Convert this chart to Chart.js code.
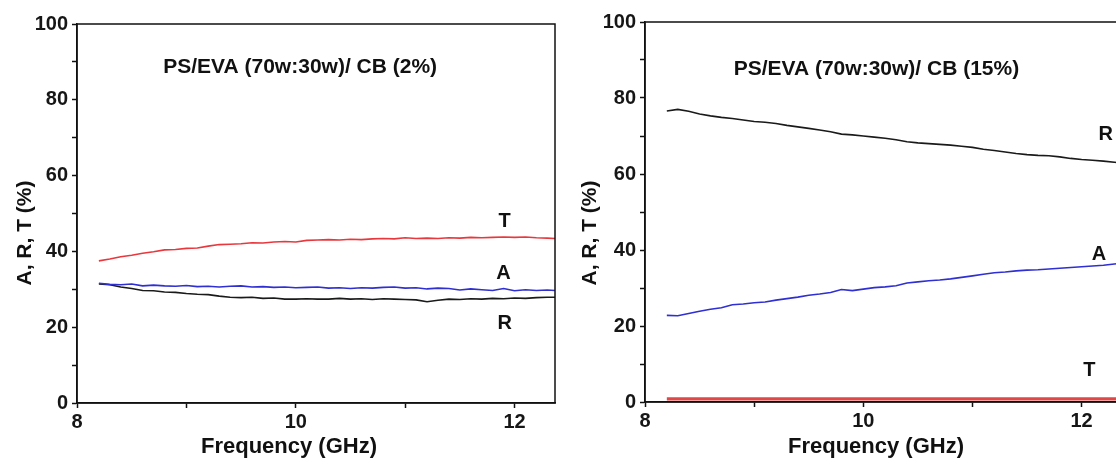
<!DOCTYPE html>
<html>
<head>
<meta charset="utf-8">
<script src="https://cdn.jsdelivr.net/npm/chart.js@4/dist/chart.umd.min.js"></script>
<style>
  html, body { margin: 0; padding: 0; background: #fff; overflow: hidden; }
  #wrap { position: relative; width: 1116px; height: 464px; overflow: hidden; background: #fff; }
  .panel { position: absolute; top: 0; }
  #p1 { left: 0; }
  #p2 { left: 560px; }
</style>
</head>
<body>
<div id="wrap">
  <canvas id="p1" class="panel" width="560" height="464"></canvas>
  <canvas id="p2" class="panel" width="600" height="464"></canvas>
</div>
<script>
// Frequency sweep (GHz), X-band
const freq = [8.2, 8.3, 8.4, 8.5, 8.6, 8.7, 8.8, 8.9, 9.0, 9.1, 9.2, 9.3, 9.4, 9.5, 9.6, 9.7, 9.8, 9.9,
              10.0, 10.1, 10.2, 10.3, 10.4, 10.5, 10.6, 10.7, 10.8, 10.9, 11.0, 11.1, 11.2, 11.3, 11.4,
              11.5, 11.6, 11.7, 11.8, 11.9, 12.0, 12.1, 12.2, 12.3, 12.37];

// PS/EVA (70w:30w) / CB 2 %
const t2 = [37.5, 38.0, 38.6, 39.0, 39.5, 39.9, 40.4, 40.5, 40.8, 40.9, 41.4, 41.8, 41.9, 42.0, 42.3, 42.2, 42.5, 42.6,
            42.5, 42.9, 43.0, 43.1, 43.0, 43.2, 43.1, 43.3, 43.4, 43.3, 43.6, 43.4, 43.5, 43.4, 43.6,
            43.5, 43.7, 43.6, 43.7, 43.8, 43.7, 43.8, 43.6, 43.5, 43.4];
const a2 = [31.6, 31.3, 31.2, 31.4, 30.9, 31.1, 30.9, 30.8, 31.0, 30.7, 30.8, 30.6, 30.8, 30.9, 30.6, 30.7, 30.5, 30.6,
            30.4, 30.5, 30.6, 30.3, 30.4, 30.2, 30.4, 30.3, 30.5, 30.6, 30.3, 30.4, 30.1, 30.3, 30.2,
            29.8, 30.1, 29.9, 29.7, 30.2, 29.6, 29.9, 29.7, 29.8, 29.7];
const r2 = [31.4, 31.2, 30.6, 30.2, 29.7, 29.6, 29.3, 29.2, 28.9, 28.7, 28.6, 28.2, 27.9, 27.8, 27.9, 27.6, 27.7, 27.4,
            27.4, 27.5, 27.4, 27.4, 27.6, 27.4, 27.5, 27.3, 27.5, 27.4, 27.3, 27.2, 26.7, 27.1, 27.4,
            27.3, 27.5, 27.4, 27.6, 27.5, 27.7, 27.6, 27.8, 27.9, 27.9];

// PS/EVA (70w:30w) / CB 15 %
const t15 = [0.8, 0.8, 0.8, 0.8, 0.8, 0.8, 0.8, 0.8, 0.8, 0.8, 0.8, 0.8, 0.8, 0.8, 0.8, 0.8, 0.8, 0.8,
             0.8, 0.8, 0.8, 0.8, 0.8, 0.8, 0.8, 0.8, 0.8, 0.8, 0.8, 0.8, 0.8, 0.8, 0.8,
             0.8, 0.8, 0.8, 0.8, 0.8, 0.8, 0.8, 0.8, 0.8, 0.8];
const a15 = [22.8, 22.7, 23.3, 23.9, 24.4, 24.8, 25.6, 25.8, 26.1, 26.3, 26.8, 27.2, 27.6, 28.1, 28.4, 28.8, 29.6, 29.3,
             29.7, 30.1, 30.3, 30.6, 31.3, 31.6, 31.9, 32.1, 32.4, 32.8, 33.2, 33.6, 34.0, 34.2, 34.5,
             34.7, 34.8, 35.0, 35.2, 35.4, 35.6, 35.8, 36.0, 36.3, 36.5];
const r15 = [76.6, 77.0, 76.5, 75.8, 75.3, 74.9, 74.6, 74.2, 73.8, 73.6, 73.3, 72.8, 72.4, 72.0, 71.6, 71.1, 70.5, 70.3,
             70.0, 69.7, 69.4, 69.0, 68.5, 68.2, 68.0, 67.8, 67.6, 67.3, 67.0, 66.5, 66.2, 65.8, 65.4,
             65.1, 64.9, 64.8, 64.5, 64.1, 63.8, 63.6, 63.4, 63.1, 62.9];

// Axis tick labels
const yTickLabels = [0, 20, 40, 60, 80, 100];
const xTickLabels = [8, 10, 12];

const RED = '#e8383d', BLUE = '#2f2fd2', BLACK = '#1a1a1a';
const BOLD = 'Liberation Sans, Arial, sans-serif';

function series(ys) { return freq.map((f, i) => ({ x: f, y: ys[i] })); }

// Frame around the plot area plus free-standing annotations (series letters, panel title, axis titles)
const framePlugin = {
  id: 'frame',
  afterDraw(chart, args, opts) {
    const { ctx, chartArea: ca, scales } = chart;
    ctx.save();
    ctx.strokeStyle = '#111';
    ctx.lineWidth = 1.5;
    ctx.strokeRect(ca.left, ca.top, ca.right - ca.left, ca.bottom - ca.top);
    ctx.fillStyle = '#111';
    ctx.textAlign = 'center';
    ctx.textBaseline = 'middle';
    ctx.font = 'bold 20px ' + BOLD;
    (opts.letters || []).forEach(l => {
      ctx.fillText(l.text, scales.x.getPixelForValue(l.x), scales.y.getPixelForValue(l.y));
    });
    ctx.font = 'bold 21px ' + BOLD;
    ctx.fillText(opts.title.text, scales.x.getPixelForValue(opts.title.x), scales.y.getPixelForValue(opts.title.y));
    ctx.font = 'bold 22px ' + BOLD;
    ctx.fillText('Frequency (GHz)', opts.xTitle.x, opts.xTitle.y);
    ctx.translate(opts.yTitle.x, opts.yTitle.y);
    ctx.rotate(-Math.PI / 2);
    ctx.font = 'bold 21px ' + BOLD;
    ctx.fillText('A, R, T (%)', 0, 0);
    ctx.restore();
  }
};

function makeChart(id, sets, axisWidth, axisHeight, padding, frame) {
  return new Chart(document.getElementById(id), {
    type: 'line',
    data: {
      datasets: sets.map(s => ({
        data: series(s.data),
        borderColor: s.color,
        borderWidth: s.width || 1.6,
        pointRadius: 0,
        tension: 0,
        fill: false
      }))
    },
    options: {
      responsive: false,
      animation: false,
      events: [],
      layout: { padding },
      plugins: { legend: { display: false }, tooltip: { enabled: false }, frame },
      scales: {
        x: {
          type: 'linear', min: 8, max: 12.37,
          afterFit: s => { s.height = axisHeight; },
          border: { display: true, color: '#111', width: 1.5 },
          grid: { drawOnChartArea: false, drawTicks: true, tickLength: 5, color: '#111', tickWidth: 1.5 },
          ticks: {
            stepSize: 1, includeBounds: false, autoSkip: false, maxRotation: 0,
            color: '#161616', padding: 2,
            font: { family: BOLD, size: 20, weight: 'bold' },
            callback: v => xTickLabels.includes(v) ? String(v) : ''
          }
        },
        y: {
          min: 0, max: 100,
          afterFit: s => { s.width = axisWidth; },
          border: { display: true, color: '#111', width: 1.5 },
          grid: { drawOnChartArea: false, drawTicks: true, tickLength: 5, color: '#111', tickWidth: 1.5 },
          ticks: {
            stepSize: 10, autoSkip: false, color: '#161616', padding: 4,
            font: { family: BOLD, size: 20, weight: 'bold' },
            callback: v => yTickLabels.includes(v) ? String(v) : ''
          }
        }
      }
    },
    plugins: [framePlugin]
  });
}

makeChart('p1',
  [{ data: t2, color: RED }, { data: a2, color: BLUE }, { data: r2, color: BLACK }],
  77, 61, { left: 0, right: 5, top: 24, bottom: 0 },
  {
    letters: [{ text: 'T', x: 11.91, y: 47.8 }, { text: 'A', x: 11.9, y: 34.3 }, { text: 'R', x: 11.91, y: 21.1 }],
    title: { text: 'PS/EVA (70w:30w)/ CB (2%)', x: 10.04, y: 88.5 },
    xTitle: { x: 289, y: 447 },
    yTitle: { x: 25, y: 233 }
  });

makeChart('p2',
  [{ data: t15, color: '#e04848', width: 3.2 }, { data: a15, color: BLUE }, { data: r15, color: BLACK }],
  85, 62, { left: 0, right: 38, top: 22, bottom: 0 },
  {
    letters: [{ text: 'R', x: 12.22, y: 70.3 }, { text: 'A', x: 12.16, y: 38.9 }, { text: 'T', x: 12.07, y: 8.4 }],
    title: { text: 'PS/EVA (70w:30w)/ CB (15%)', x: 10.12, y: 87.7 },
    xTitle: { x: 316, y: 447 },
    yTitle: { x: 30, y: 233 }
  });
</script>
</body>
</html>
